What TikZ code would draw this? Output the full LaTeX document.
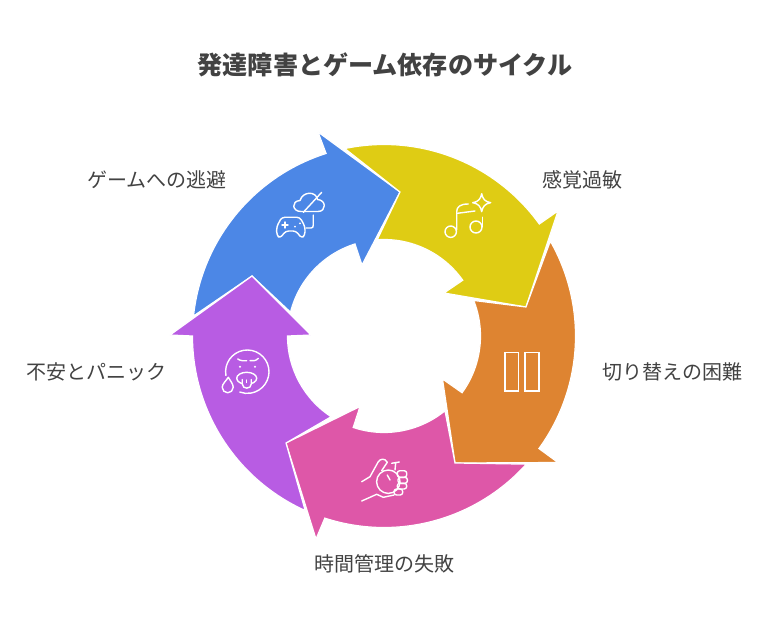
\documentclass[tikz,border=0pt]{standalone}
\usepackage{fontspec}
\setmainfont{Noto Sans CJK JP}
\definecolor{cblue}{HTML}{4C87E6}
\definecolor{cyellow}{HTML}{DFCC14}
\definecolor{corange}{HTML}{DE8431}
\definecolor{cpink}{HTML}{DE57A8}
\definecolor{cpurple}{HTML}{B85CE3}
\definecolor{ctext}{HTML}{424242}
\def\Ro{191.5pt}
\def\Ri{96.5pt}
\tikzset{
	segm/.style = {draw=white, line width=1.2pt, line join=miter},
	icon/.style = {draw=white, line width=1.4pt, line cap=round, line join=round},
	caption/.style = {text=ctext, font=\fontsize{20}{24}\selectfont, inner sep=0pt},
	heading/.style = {text=ctext, font=\fontsize{25.1}{30}\selectfont\bfseries, inner sep=0pt}
}
\begin{document}
\begin{tikzpicture}[x=1pt,y=1pt]
	\useasboundingbox (-384,-288) rectangle (384,336);

	% arrows
	\filldraw [segm, fill=cblue] (174:\Ro) arc[start angle=174, end angle=107.6, radius=\Ro]
		-- (-66,204) -- (16,144) -- (-22,71) -- (107.5:\Ri)
		arc[start angle=107.5, end angle=165.7, radius=\Ri] -- (-132,60) -- cycle;
	\filldraw [segm, fill=cyellow] (101.8:\Ro) arc[start angle=101.8, end angle=35.8, radius=\Ro]
		-- (174,125) -- (142,29) -- (60,43) -- (35.3:\Ri)
		arc[start angle=35.3, end angle=94, radius=\Ri] -- (16,144) -- cycle;
	\filldraw [segm, fill=corange] (29.7:\Ro) arc[start angle=29.7, end angle=-36, radius=\Ro]
		-- (174,-126.5) -- (71,-127) -- (58.5,-43) -- (-36:\Ri)
		arc[start angle=-36, end angle=21.6, radius=\Ri] -- (142,29) -- cycle;
	\filldraw [segm, fill=cpink] (-42:\Ro) arc[start angle=-42, end angle=-108, radius=\Ro]
		-- (-68,-203) -- (-98,-107) -- (-24,-70.5) -- (-108.6:\Ri)
		arc[start angle=-108.6, end angle=-50.8, radius=\Ri] -- (71,-127) -- cycle;
	\filldraw [segm, fill=cpurple] (245.7:\Ro) arc[start angle=245.7, end angle=180, radius=\Ro]
		-- (-214,1) -- (-132,60) -- (-73,1) -- (180:\Ri)
		arc[start angle=180, end angle=236.8, radius=\Ri] -- (-98,-107) -- cycle;

	% game icon
	\draw [icon, rounded corners=3pt] (-104,97.7) -- (-107.3,101) -- (-107.3,109.3) -- (-102.3,118.7)
		-- (-84,118.7) -- (-79,109.3) -- (-79,101) -- (-82.3,97.7) -- (-88,105) -- (-98.3,105) -- cycle;
	\draw [icon] (-102,111) -- (-96,111) (-99,108) -- (-99,114);
	\fill [white] (-89,109.3) circle (1) (-84,112.7) circle (1);
	\draw [icon] (-78,108) -- (-73,108) .. controls (-71.3,108) and (-70.7,109) .. (-70.7,111) -- (-70.7,121);
	\draw [icon] (-83,124.5) .. controls (-92,124.5) and (-93,135) .. (-84,135.5)
		.. controls (-81,145) and (-68,145) .. (-66.5,136.5)
		.. controls (-57.5,136) and (-57.5,124.5) .. (-66,124.5) -- cycle;
	\draw [icon] (-80.7,123.7) -- (-62.3,143.7);

	% music icon
	\draw [icon] (66.7,104.3) circle (5.7) (92,109) circle (6);
	\draw [icon] (72.7,106) -- (72.7,124.3) .. controls (72.7,129) and (76,132) .. (84.3,132);
	\draw [icon] (73.3,122.7) -- (91,125);
	\draw [icon] (98.7,109.3) -- (98.7,118.7);
	\draw [icon] (97.7,142.3) .. controls (98.7,137) and (101,134.3) .. (106.7,133.3)
		.. controls (101,132.3) and (98.7,129.6) .. (97.7,124.3)
		.. controls (96.7,129.6) and (94.4,132.3) .. (88.7,133.3)
		.. controls (94.4,134.3) and (96.7,137) .. cycle;

	% switch icon
	\draw [icon, line join=miter] (121,-16.3) rectangle (134.7,-55);
	\draw [icon, line join=miter] (141,-16.3) rectangle (155,-55);

	% watch icon
	\draw [icon] (4.3,-145.7) circle (11.7);
	\draw [icon] (3.3,-139) -- (6,-144);
	\draw [icon] (11,-134) -- (11.7,-126.7) (7.7,-127.3) -- (15.3,-126);
	\draw [icon] (-22.3,-145.7) -- (-14,-140.7) -- (-5.7,-125.7) .. controls (-3.5,-122.5) and (1,-122) .. (3.3,-126.3) -- (-2.3,-134.7);
	\draw [icon] (-22.3,-165) -- (-7.3,-158.3) -- (-.7,-161.3) -- (10,-159);
	\draw [icon, rounded corners=2.5pt] (13.3,-134.7) rectangle (22.7,-141.3);
	\draw [icon, rounded corners=2.5pt] (14,-141.3) rectangle (23.4,-147.3);
	\draw [icon, rounded corners=2.5pt] (13.3,-147.3) rectangle (22.7,-153);
	\draw [icon, rounded corners=2.5pt] (10,-153) rectangle (18.7,-159);

	% face icon
	\draw [icon] (-136.7,-35.7) ++(190:21.7) arc[start angle=190, end angle=-110, radius=21.7];
	\fill [white] (-144,-30.7) circle (1.1) (-129,-30.7) circle (1.1);
	\draw [icon] (-146.3,-23) .. controls (-143,-25) and (-140,-25) .. (-137.3,-24.7);
	\draw [icon] (-134,-24.7) .. controls (-131,-25) and (-128,-25) .. (-125.7,-22.3);
	\draw [icon] (-137.3,-42.3) ellipse (10 and 6);
	\draw [icon, fill=cpurple] (-141.7,-43.5) -- (-141.7,-48) .. controls (-141.7,-53.5) and (-132.7,-53.5) .. (-132.7,-48) -- (-132.7,-43.5);
	\draw [icon] (-137.2,-44) -- (-137.2,-46.5);
	\draw [icon] (-155.7,-41.3) .. controls (-158,-45) and (-161.8,-48) .. (-161.8,-51.3)
		arc[start angle=180, end angle=360, radius=5.5] .. controls (-150.8,-48) and (-153.5,-45) .. cycle;

	% texts
	\node [heading] (title) at (1,271) {発達障害とゲーム依存のサイクル};
	\node [caption] (lblsense) at (198,156.5) {感覚過敏};
	\node [caption] (lblswitch) at (288,-35.5) {切り替えの困難};
	\node [caption] (lbltime) at (.5,-227.5) {時間管理の失敗};
	\node [caption] (lblpanic) at (-287.5,-35.5) {不安とパニック};
	\node [caption] (lblescape) at (-227,156.5) {ゲームへの逃避};
\end{tikzpicture}
\end{document}
